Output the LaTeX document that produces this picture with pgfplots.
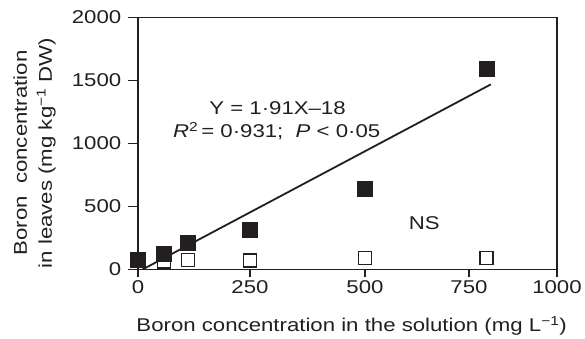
\documentclass[border=0pt]{standalone}
\usepackage{pgfplots}
\pgfplotsset{compat=1.18}
\usepackage{fontspec}
\setmainfont{Liberation Sans}[FakeStretch=1.2]
\definecolor{ink}{HTML}{231F20}
\begin{document}
\begin{tikzpicture}
\useasboundingbox (-138bp,-69.5bp) rectangle (447bp,269.5bp);
\begin{axis}[
  at={(0,0)}, anchor=south west,
  scale only axis, width=419bp, height=252.2bp,
  font=\fontsize{18.5bp}{25bp}\selectfont,
  /pgf/number format/assume math mode=true,
  /pgf/number format/1000 sep={},
  x coord trafo/.code={\pgfmathparse{(#1)<=250 ? 0.448*(#1) : ((#1)<=500 ? 112+0.46*((#1)-250) : ((#1)<=750 ? 227+0.416*((#1)-500) : 331+0.352*((#1)-750)))}},
  xmin=0, xmax=1000, ymin=0, ymax=2000,
  xtick={0,250,500,750,1000}, xticklabels={0,250,500,750,1000},
  ytick={0,500,1000,1500,2000},
  scaled ticks=false,
  tick align=outside, xtick pos=bottom, ytick pos=left,
  axis line style={ink, line width=1.6bp},
  every tick/.style={ink, line width=1.6bp},
  xtick style={/pgfplots/major tick length=7bp},
  ytick style={/pgfplots/major tick length=10bp},
  xticklabel style={ink, yshift=-3bp},
  yticklabel style={ink, xshift=-9bp},
  xlabel={Boron concentration in the solution (mg L\textsuperscript{−1})},
  ylabel={Boron\ \ concentration\\in leaves (mg kg\textsuperscript{−1} DW)},
  ylabel style={ink, align=center, at={(rel axis cs:-0.247,0.462)}, anchor=center},
  xlabel style={ink, at={(rel axis cs:0.51,-0.224)}, anchor=center},
  clip=false,
]
% regression line
\addplot[ink, line width=1.8bp, no markers] coordinates {(10,0) (812,1468)};
% open squares (NS)
\addplot[only marks, mark=square, mark size=6.5bp, mark options={ink, line width=1.6bp, fill=white}]
  coordinates {(0,70) (58,65) (112,75) (250,73) (500,91) (800,91)};
% filled squares
\addplot[only marks, mark=square*, mark size=7.5bp, mark options={ink, fill=ink, line width=0.5bp}]
  coordinates {(0,75) (58,128) (112,213) (250,313) (500,638) (800,1590)};
\node[ink] at (rel axis cs:0.333,0.640) {Y = 1·91X–18};
\node[ink] at (rel axis cs:0.331,0.550) {\textit{R}\textsuperscript{2}\,= 0·931;~~\textit{P} < 0·05};
\node[ink] at (rel axis cs:0.683,0.184) {NS};
\end{axis}
\end{tikzpicture}
\end{document}
